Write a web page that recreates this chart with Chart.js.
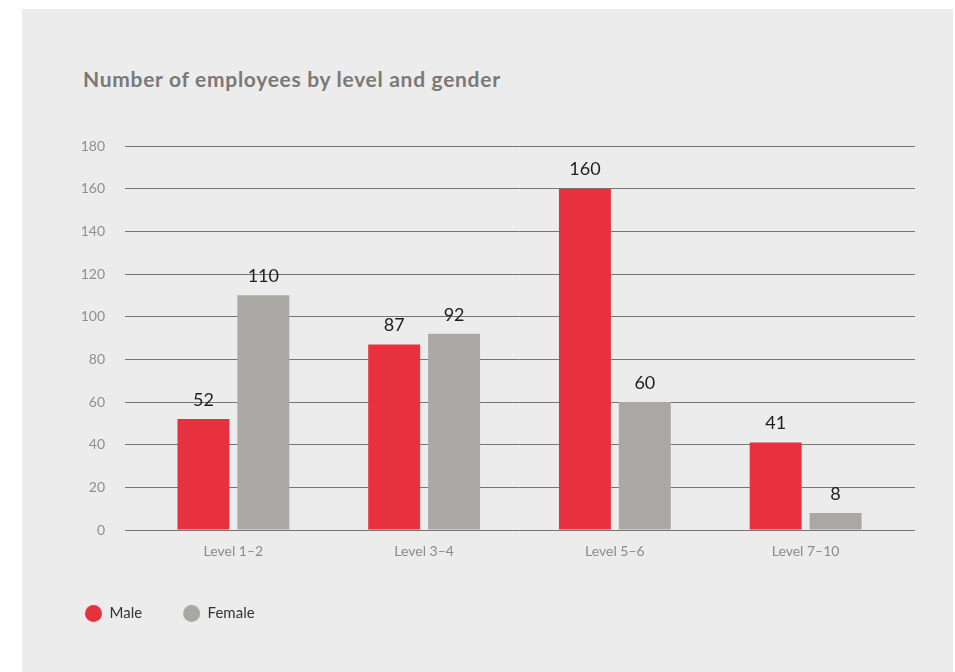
<!DOCTYPE html>
<html>
<head>
<meta charset="utf-8">
<script src="https://cdn.jsdelivr.net/npm/chart.js@4.4.0/dist/chart.umd.min.js"></script>
<style>
  html, body { margin: 0; padding: 0; background: #fff; }
  body { width: 955px; height: 672px; position: relative; overflow: hidden; font-family: Lato, sans-serif; }
  #panel { position: absolute; left: 22px; top: 9px; width: 931px; height: 663px; background: #ececec; }
  #title { position: absolute; left: 61px; top: 57px; margin: 0; font-size: 21px; letter-spacing: 0.7px; font-weight: bold; color: #7b7976; white-space: nowrap; }
  #chartBox { position: absolute; left: 0; top: 0; width: 931px; height: 663px; }
</style>
</head>
<body>
<div id="panel">
  <h2 id="title">Number of employees by level and gender</h2>
  <div id="chartBox"><canvas id="empChart"></canvas></div>
</div>
<script>
// data
const levels = ["Level 1–2", "Level 3–4", "Level 5–6", "Level 7–10"];
const maleCounts = [52, 87, 160, 41];
const femaleCounts = [110, 92, 60, 8];
const yMax = 180;
const yStep = 20;

const gridColor = "rgba(0,0,0,0.5)";

// numbers above each bar
const valueLabels = {
  id: "valueLabels",
  afterDatasetsDraw(chart) {
    const ctx = chart.ctx;
    ctx.save();
    ctx.font = "18px Lato";
    ctx.fillStyle = "#1e1e1e";
    ctx.textAlign = "center";
    ctx.textBaseline = "bottom";
    chart.data.datasets.forEach((ds, i) => {
      chart.getDatasetMeta(i).data.forEach((bar, j) => {
        ctx.fillText(ds.data[j], bar.x, bar.y - 10);
      });
    });
    ctx.restore();
  }
};

new Chart(document.getElementById("empChart"), {
  type: "bar",
  data: {
    labels: levels,
    datasets: [
      { label: "Male", data: maleCounts, backgroundColor: "#e7313e" },
      { label: "Female", data: femaleCounts, backgroundColor: "#aaa8a5" }
    ]
  },
  options: {
    responsive: true,
    maintainAspectRatio: false,
    animation: false,
    categoryPercentage: 0.628,
    barPercentage: 0.867,
    layout: { padding: { left: 22, right: 38, top: 137, bottom: 41 } },
    plugins: {
      tooltip: { enabled: false },
      legend: {
        position: "bottom",
        align: "start",
        labels: {
          usePointStyle: true,
          pointStyle: "circle",
          pointStyleWidth: 17,
          boxHeight: 12,
          padding: 41,
          color: "#333",
          font: { family: "Lato", size: 15 }
        }
      }
    },
    scales: {
      x: {
        grid: { display: false, drawTicks: false },
        border: { display: false },
        ticks: { color: "#8a8a8a", padding: 13, font: { family: "Lato", size: 14 } },
        afterFit: s => { s.height = 35; }
      },
      y: {
        min: 0,
        max: yMax,
        z: 1,
        ticks: { stepSize: yStep, color: "#8f8f8f", padding: 20, font: { family: "Lato", size: 14 } },
        grid: { color: gridColor, tickColor: gridColor, tickLength: 13 },
        border: { display: false },
        afterFit: s => { s.width = 94; }
      },
      y2: {
        position: "right",
        min: 0,
        max: yMax,
        z: 1,
        ticks: { stepSize: yStep, display: false },
        grid: { drawOnChartArea: false, color: gridColor, tickColor: gridColor, tickLength: 14 },
        border: { display: false },
        afterFit: s => { s.width = 14; }
      }
    }
  },
  plugins: [valueLabels]
});
</script>
</body>
</html>
